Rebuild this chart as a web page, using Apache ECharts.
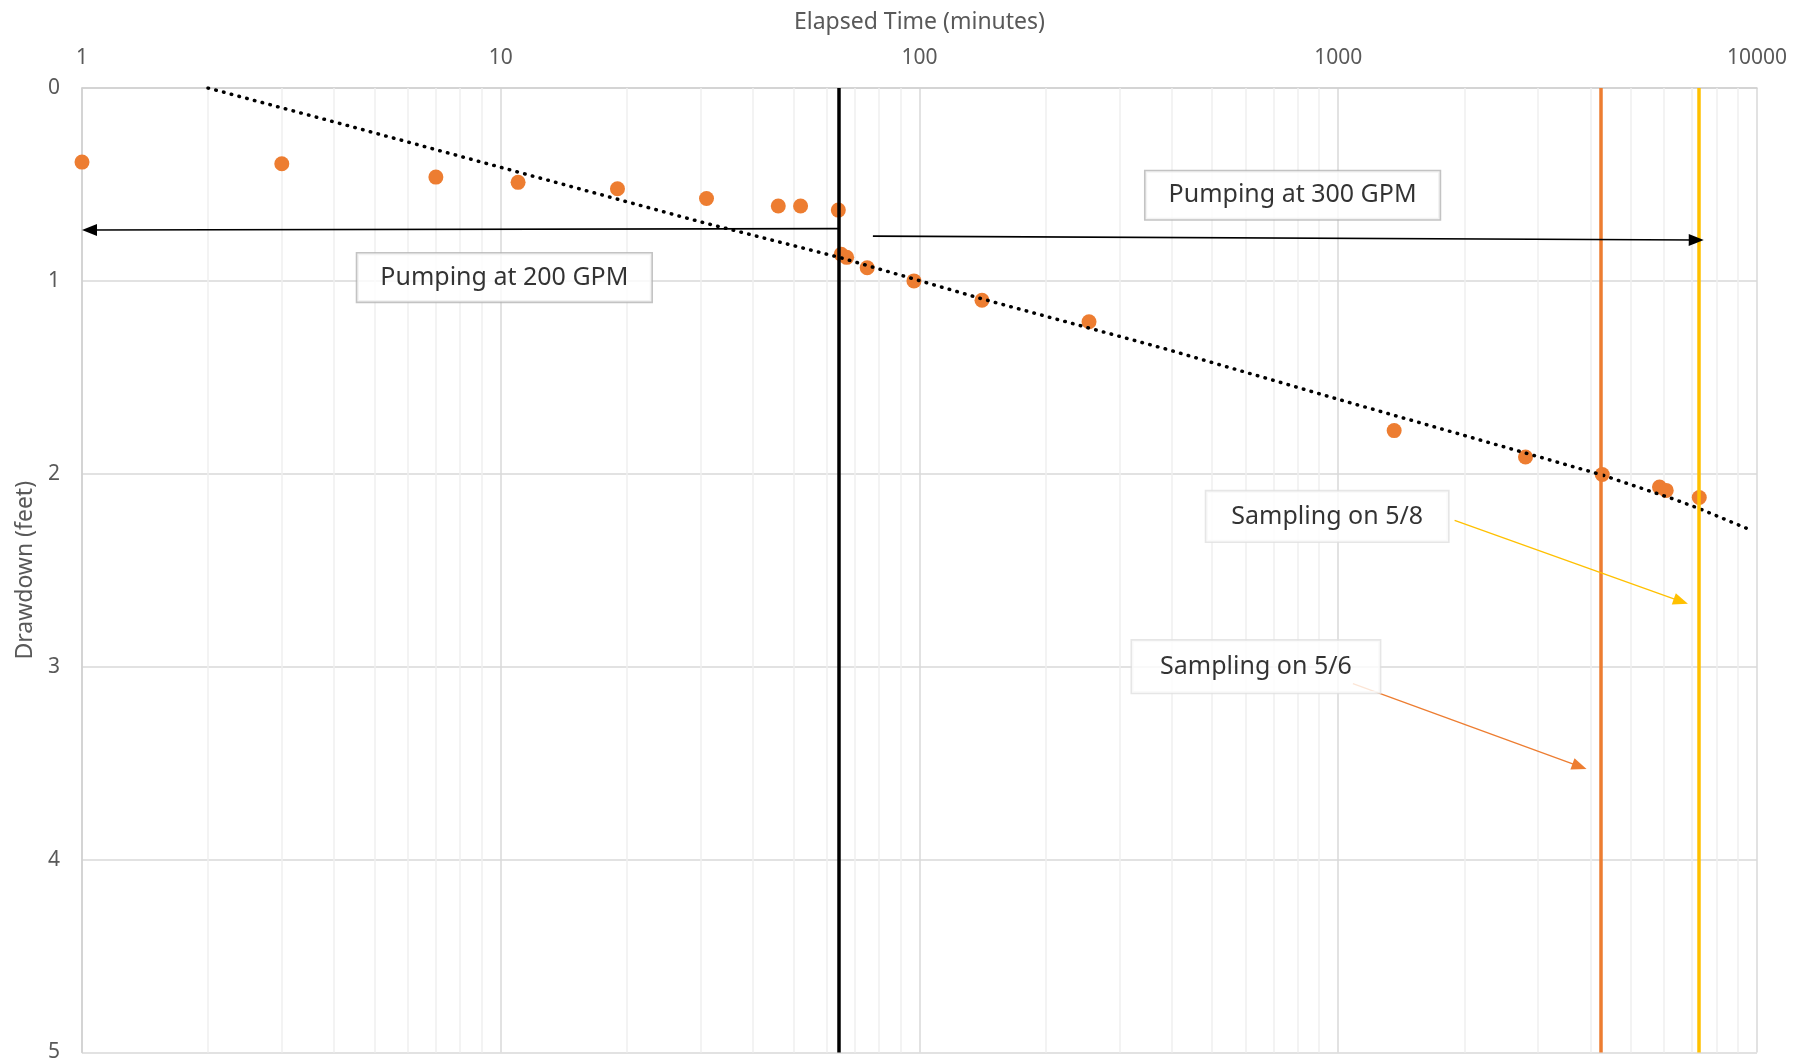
<!DOCTYPE html>
<html>
<head>
<meta charset="utf-8">
<style>
html,body{margin:0;padding:0;background:#fff;}
#chart{width:1810px;height:1063px;}
</style>
<script src="https://cdn.jsdelivr.net/npm/echarts@6/dist/echarts.min.js"></script>
</head>
<body>
<div id="chart"></div>
<script>
// ---- Data ----
const timeMin = [1, 3, 7, 11, 19, 31, 46, 52, 64, 65, 67, 75, 97, 141, 254, 1360, 2800, 4270, 5850, 6070, 7280];
const drawdownFt = [0.384, 0.393, 0.462, 0.489, 0.522, 0.573, 0.612, 0.612, 0.633, 0.862, 0.878, 0.932, 1.0, 1.10, 1.212, 1.776, 1.913, 2.004, 2.069, 2.086, 2.123];

const trendTime = [2, 4.23, 29.9, 64.1, 141, 389, 1012, 4280, 6300, 7271, 9620];
const trendDrawdown = [0, 0.19, 0.693, 0.877, 1.093, 1.354, 1.617, 2.007, 2.13, 2.18, 2.29];

const xTickValues = [1, 10, 100, 1000, 10000];
const xTickLabels = ['1', '10', '100', '1000', '10000'];
const yTickLabels = ['0', '1', '2', '3', '4', '5'];
const minorGridTimes = [2, 3, 4, 5, 6, 7, 8, 9, 20, 30, 40, 50, 60, 70, 80, 90,
  200, 300, 400, 500, 600, 700, 800, 900, 2000, 3000, 4000, 5000, 6000, 7000, 8000, 9000];

const eventTimes = [64, 4240, 7270];          // rate change, sampling 5/6, sampling 5/8

const annotationText = ['Pumping at 200 GPM', 'Pumping at 300 GPM', 'Sampling on 5/8', 'Sampling on 5/6'];
const annotationTime = [10.2, 778, 941, 636];
const annotationDrawdown = [0.983, 0.556, 2.221, 3.0];

// arrow shafts: start and end of the shaft (the arrow head sits on the end)
const arrowFrom = [[64, 0.729], [77.4, 0.768], [1896, 2.242], [1084, 3.088]];
const arrowTo = [[1.042, 0.736], [7160, 0.788], [6579, 2.661], [3768, 3.517]];

// ---- Styles ----
const FONT = 'Noto Sans';
const GRAY = '#595959';
const eventColors = ['#000000', '#ED7D31', '#FFC000'];
const arrowColors = ['#000000', '#000000', '#FFC000', '#ED7D31'];
const annotationBorder = ['#b4b4b4', '#b4b4b4', '#e0e0e0', '#e0e0e0'];
const annotationPadding = [[13, 23, 5, 23], [13, 23, 5, 23], [14, 25, 6, 25], [15, 28, 7, 28]];

const chart = echarts.init(document.getElementById('chart'), null, {renderer: 'canvas'});

const scatterData = timeMin.map((t, i) => [t, drawdownFt[i]]);
const trendData = trendTime.map((t, i) => [t, trendDrawdown[i]]);

const option = {
  animation: false,
  backgroundColor: '#ffffff',
  grid: {left: 82, right: 53, top: 88, bottom: 10, containLabel: false},
  xAxis: {
    type: 'log',
    logBase: 10,
    min: 1,
    max: 10000,
    position: 'top',
    name: 'Elapsed Time (minutes)',
    nameLocation: 'middle',
    nameGap: 54,
    nameTextStyle: {fontFamily: FONT, fontSize: 23, color: GRAY},
    axisLine: {show: true, lineStyle: {color: '#cfcfcf', width: 1.5}},
    axisTick: {show: false},
    axisLabel: {
      fontFamily: FONT, fontSize: 21, color: GRAY, margin: 19,
      formatter: function (v) {
        const i = xTickValues.findIndex(x => Math.abs(x - v) / x < 1e-6);
        return i >= 0 ? xTickLabels[i] : '';
      }
    },
    splitLine: {show: true, lineStyle: {color: '#d9d9d9', width: 1.5}}
  },
  yAxis: {
    type: 'value',
    inverse: true,
    min: 0,
    max: 5,
    interval: 1,
    name: 'Drawdown (feet)',
    nameLocation: 'middle',
    nameGap: 44,
    nameTextStyle: {fontFamily: FONT, fontSize: 23, color: GRAY},
    axisLine: {show: true, lineStyle: {color: '#cfcfcf', width: 1.5}},
    axisTick: {show: false},
    axisLabel: {
      fontFamily: FONT, fontSize: 21, color: GRAY, margin: 22,
      formatter: function (v) { return yTickLabels[Math.round(v)]; }
    },
    splitLine: {show: true, lineStyle: {color: '#d9d9d9', width: 1.5}}
  },
  series: [
    {
      name: 'minorGrid',
      type: 'line',
      data: [],
      silent: true,
      z: 1,
      markLine: {
        silent: true,
        z: 1,
        symbol: ['none', 'none'],
        label: {show: false},
        lineStyle: {color: '#efefef', width: 1.5, type: 'solid'},
        emphasis: {disabled: true},
        data: minorGridTimes.map(t => ({xAxis: t}))
      }
    },
    {
      name: 'Drawdown',
      type: 'scatter',
      data: scatterData,
      symbol: 'circle',
      symbolSize: 15,
      itemStyle: {color: '#ED7D31', opacity: 1},
      z: 3
    },
    {
      name: 'Trend',
      type: 'line',
      data: trendData,
      showSymbol: false,
      symbol: 'none',
      smooth: false,
      lineStyle: {color: '#000000', width: 3.5, type: [0.5, 7.5], cap: 'round'},
      z: 4
    },
    {
      name: 'events',
      type: 'line',
      data: [],
      silent: true,
      z: 5,
      markLine: {
        silent: true,
        z: 5,
        symbol: ['none', 'none'],
        label: {show: false},
        emphasis: {disabled: true},
        data: eventTimes.map((t, i) => ({
          xAxis: t,
          lineStyle: {color: eventColors[i], width: 3.5, type: 'solid'}
        }))
      }
    },
    {
      name: 'arrows',
      type: 'line',
      data: [],
      silent: true,
      z: 6,
      markLine: {
        silent: true,
        z: 6,
        symbol: ['none', 'triangle'],
        symbolSize: [12, 15],
        label: {show: false},
        emphasis: {disabled: true},
        data: arrowFrom.map((f, i) => [
          {coord: f, lineStyle: {color: arrowColors[i], width: i < 2 ? 1.6 : 1.3, type: 'solid'},
           itemStyle: {color: arrowColors[i]}},
          {coord: arrowTo[i]}
        ])
      }
    },
    {
      name: 'annotations',
      type: 'scatter',
      silent: true,
      z: 7,
      symbolSize: 0,
      data: annotationText.map((txt, i) => ({
        value: [annotationTime[i], annotationDrawdown[i]],
        label: {
          show: true,
          position: 'inside',
          formatter: txt,
          fontFamily: FONT,
          fontSize: 25,
          color: '#000000',
          backgroundColor: '#ffffff',
          borderColor: annotationBorder[i],
          borderWidth: 1.6,
          padding: annotationPadding[i],
          lineHeight: 30
        }
      }))
    }
  ]
};

chart.setOption(option);
</script>
</body>
</html>
